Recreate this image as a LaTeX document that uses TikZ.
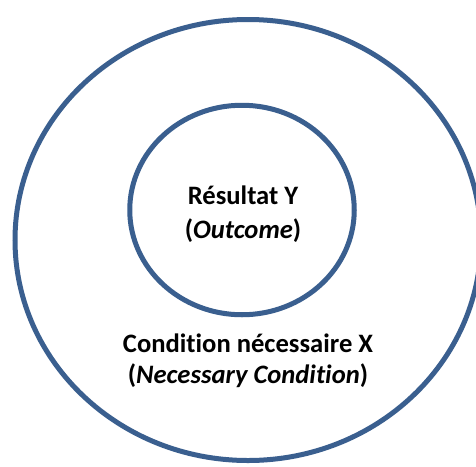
\documentclass[tikz,border=0pt]{standalone}
\usepackage{fontspec}
\setmainfont[Ligatures=NoCommon]{Carlito}
\usetikzlibrary{shapes.geometric}
\definecolor{ringblue}{HTML}{3A5F8F}
\tikzset{
  ring/.style={ellipse, draw=ringblue, line width=5pt, inner sep=0pt, outer sep=0pt},
  caption/.style={anchor=base, inner sep=0pt, font=\fontsize{26.6}{32}\selectfont\bfseries, text=black}
}
\begin{document}
\begin{tikzpicture}[x=1pt,y=-1pt]
  \useasboundingbox (0,0) rectangle (476,466);
  \clip (0,0) rectangle (476,466);
  \fill[white] (0,0) rectangle (476,466);
  % outer ring: necessary condition
  \node[ring, minimum width=466pt, minimum height=441pt] (outer) at (248,240) {};
  % inner ring: outcome
  \node[ring, minimum width=224.5pt, minimum height=209.5pt] (inner) at (242,210) {};
  % labels
  \node[caption] (res) at (243,204) {Résultat Y};
  \node[caption] (out) at (243,238) {(\textit{Outcome})};
  \node[caption] (cond) at (248,352.5) {Condition nécessaire X};
  \node[caption] (nec) at (248,383) {(\textit{Necessary Condition})};
\end{tikzpicture}
\end{document}
